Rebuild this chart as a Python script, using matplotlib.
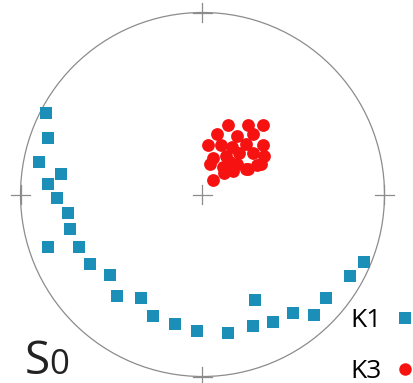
import matplotlib
matplotlib.use("Agg")
import matplotlib.pyplot as plt
from matplotlib.patches import Circle
from matplotlib.lines import Line2D

# Stereonet coordinates (unit circle)
k1_x = [-0.86, -0.85, -0.90, -0.78, -0.85, -0.80, -0.74, -0.73, -0.85, -0.68,
        -0.62, -0.51, -0.47, -0.34, -0.27, -0.15, -0.03, 0.14, 0.28, 0.29,
        0.39, 0.50, 0.61, 0.68, 0.81, 0.89]
k1_y = [0.45, 0.31, 0.18, 0.11, 0.06, -0.02, -0.10, -0.19, -0.29, -0.29,
        -0.38, -0.44, -0.56, -0.57, -0.67, -0.71, -0.75, -0.76, -0.72, -0.58,
        -0.70, -0.65, -0.66, -0.57, -0.45, -0.37]

k3_x = [0.14, 0.25, 0.33, 0.08, 0.19, 0.28, 0.03, 0.10, 0.16, 0.24,
        0.33, 0.06, 0.13, 0.20, 0.28, 0.34, 0.04, 0.11, 0.19, 0.25,
        0.32, 0.12, 0.17, 0.24, 0.06, 0.30, 0.15]
k3_y = [0.38, 0.38, 0.38, 0.33, 0.32, 0.33, 0.27, 0.27, 0.26, 0.28,
        0.27, 0.20, 0.21, 0.23, 0.23, 0.21, 0.17, 0.15, 0.17, 0.14,
        0.17, 0.12, 0.13, 0.14, 0.08, 0.16, 0.18]

labels = ["K1", "K3"]
blue = "#1b8fb8"
red = "#f71212"
grey = "#8c8c8c"

# figure in pixels: 414 x 383, circle centre (202.5, 194.5), radius 182
fig = plt.figure(figsize=(4.14, 3.83), dpi=100)
ax = fig.add_axes([0, 0, 1, 1])
cx, cy, R = 202.5, 194.5, 182.0
ax.set_xlim(-cx / R, (414 - cx) / R)
ax.set_ylim(-(383 - cy) / R, cy / R)
ax.axis("off")

ax.add_patch(Circle((0, 0), 1, fill=False, ec=grey, lw=0.9))

# N/E/S/W ticks and centre cross
t = 0.052
for px, py in [(0, 1), (1, 0), (0, -1), (-1, 0), (0, 0)]:
    ax.plot([px - t, px + t], [py, py], color=grey, lw=0.9)
    ax.plot([px, px], [py - t, py + t], color=grey, lw=0.9)

ax.scatter(k1_x, k1_y, marker="s", s=70, color=blue, lw=0, zorder=3)
ax.scatter(k3_x, k3_y, marker="o", s=85, color=red, lw=0, zorder=3)

handles = [Line2D([], [], ls="", marker="s", ms=8.5, color=blue, mew=0),
           Line2D([], [], ls="", marker="o", ms=9, color=red, mew=0)]
ax.legend(handles, labels, loc="upper left", bbox_to_anchor=(350 / 414, 1 - 308 / 383),
          frameon=False, markerfirst=False, prop={"family": "Open Sans", "size": 19},
          handletextpad=0.4, labelspacing=1.0, borderpad=0, borderaxespad=0,
          handlelength=1.0)

fig.text(25 / 414, 9 / 383, "S", fontsize=33, family="Open Sans", color="#222222")
fig.text(49 / 414, 9 / 383, "0", fontsize=25, family="Open Sans", color="#222222")

fig.savefig("out.png", dpi=100)
